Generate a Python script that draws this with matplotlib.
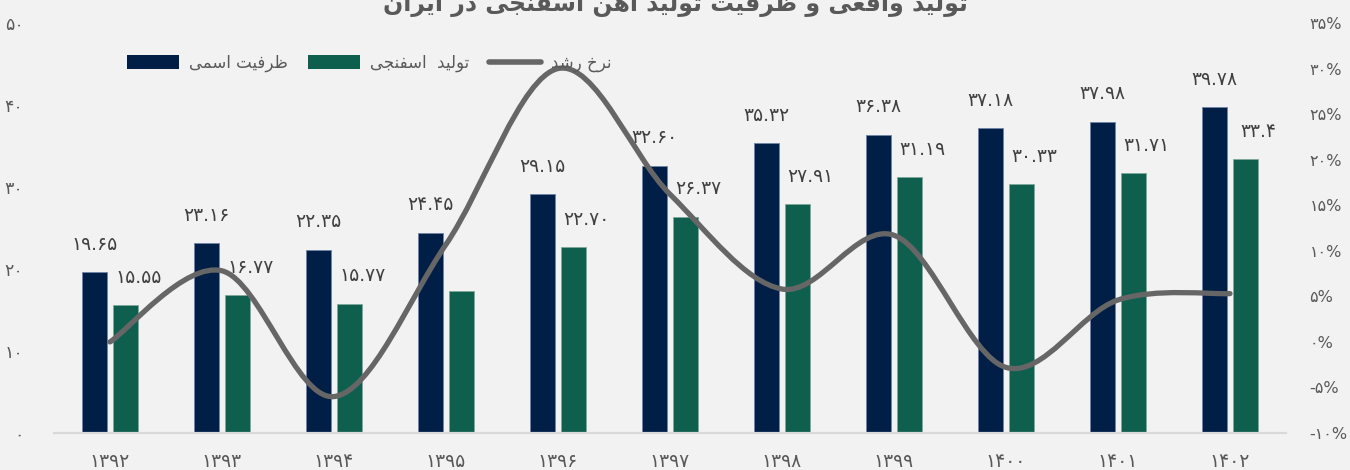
import numpy as np
import matplotlib
matplotlib.use("Agg")
import matplotlib.pyplot as plt
from matplotlib.patches import Patch
from matplotlib.lines import Line2D
from matplotlib.path import Path
from matplotlib.patches import PathPatch
from matplotlib.ticker import FixedLocator
from matplotlib import font_manager, ft2font

# ---------------- data ----------------
years = ["1392", "1393", "1394", "1395", "1396", "1397", "1398", "1399", "1400", "1401", "1402"]
capacity = [19.65, 23.16, 22.35, 24.45, 29.15, 32.60, 35.32, 36.38, 37.18, 37.98, 39.78]
production = [15.55, 16.77, 15.77, 17.30, 22.70, 26.37, 27.91, 31.19, 30.33, 31.71, 33.40]
capacity_labels = ["19.65", "23.16", "22.35", "24.45", "29.15", "32.60", "35.32", "36.38", "37.18", "37.98", "39.78"]
production_labels = ["15.55", "16.77", "15.77", None, "22.70", "26.37", "27.91", "31.19", "30.33", "31.71", "33.4"]
growth = [0.0, 7.8, -6.0, 10.7, 30.0, 16.2, 5.8, 11.7, -2.8, 4.6, 5.3]
left_ticks = [0, 10, 20, 30, 40, 50]
right_ticks = [-10, -5, 0, 5, 10, 15, 20, 25, 30, 35]

title_text = "تولید واقعی و ظرفیت تولید آهن اسفنجی در ایران"
legend_texts = ["ظرفیت اسمی", "تولید  اسفنجی", "نرخ رشد"]

# ---------------- font / shaping helpers ----------------
FONT = "DejaVu Sans"
font_path = font_manager.findfont(FONT)
_ft = ft2font.FT2Font(font_path)


def has(ch):
    return _ft.get_char_index(ord(ch)) != 0


yeh = ('\uFBFC', '\uFBFD', '\uFBFE', '\uFBFF')
if not all(has(c) for c in yeh):
    yeh = ('\uFEEF', '\uFEF0', '\uFEF3', '\uFEF4')

FORMS = {
    'ا': ('\uFE8D', '\uFE8E', None, None),
    'آ': ('\uFE81', '\uFE82', None, None),
    'ت': ('\uFE95', '\uFE96', '\uFE97', '\uFE98'),
    'ج': ('\uFE9D', '\uFE9E', '\uFE9F', '\uFEA0'),
    'خ': ('\uFEA5', '\uFEA6', '\uFEA7', '\uFEA8'),
    'د': ('\uFEA9', '\uFEAA', None, None),
    'ر': ('\uFEAD', '\uFEAE', None, None),
    'ز': ('\uFEAF', '\uFEB0', None, None),
    'س': ('\uFEB1', '\uFEB2', '\uFEB3', '\uFEB4'),
    'ش': ('\uFEB5', '\uFEB6', '\uFEB7', '\uFEB8'),
    'ظ': ('\uFEC5', '\uFEC6', '\uFEC7', '\uFEC8'),
    'ع': ('\uFEC9', '\uFECA', '\uFECB', '\uFECC'),
    'ف': ('\uFED1', '\uFED2', '\uFED3', '\uFED4'),
    'ق': ('\uFED5', '\uFED6', '\uFED7', '\uFED8'),
    'ل': ('\uFEDD', '\uFEDE', '\uFEDF', '\uFEE0'),
    'م': ('\uFEE1', '\uFEE2', '\uFEE3', '\uFEE4'),
    'ن': ('\uFEE5', '\uFEE6', '\uFEE7', '\uFEE8'),
    'ه': ('\uFEE9', '\uFEEA', '\uFEEB', '\uFEEC'),
    'و': ('\uFEED', '\uFEEE', None, None),
    'ی': yeh,
}


def shape(text):
    out = []
    n = len(text)
    for i, ch in enumerate(text):
        if ch not in FORMS:
            out.append(ch)
            continue
        f = FORMS[ch]
        prev = text[i - 1] if i > 0 else ''
        nxt = text[i + 1] if i < n - 1 else ''
        pj = prev in FORMS and FORMS[prev][2] is not None
        nj = f[2] is not None and nxt in FORMS
        if pj and nj:
            out.append(f[3])
        elif pj:
            out.append(f[1])
        elif nj:
            out.append(f[2])
        else:
            out.append(f[0])
    return ''.join(out)[::-1]


pers = [chr(0x06F0 + i) for i in range(10)]
if not all(has(c) for c in pers):
    pers = [chr(0x0660 + i) for i in range(10)]


def fa(s):
    return ''.join(pers[int(c)] if c.isdigit() else c for c in s)


# ---------------- figure ----------------
BG = "#f2f2f2"
NAVY = "#001e46"
GREEN = "#0f5f4f"
LINE = "#666666"
TXT = "#595959"
LBL = "#404040"

plt.rcParams['font.family'] = [FONT]
fig = plt.figure(figsize=(13.5, 4.7), dpi=100, facecolor=BG)
ax = fig.add_axes([54 / 1350, 1 - 433 / 470, (1286 - 54) / 1350, (433 - 23) / 470])
ax.set_facecolor("none")
ax2 = ax.twinx()
ax2.set_facecolor("none")

x = np.arange(len(years))
w = 0.225
off = 0.14
ax.bar(x - off, capacity, width=w, color=NAVY, edgecolor="#6f85a3", linewidth=0.6, zorder=2)
ax.bar(x + off, production, width=w, color=GREEN, edgecolor="#7fa89d", linewidth=0.6, zorder=2)

ax.set_xlim(-0.5, len(years) - 0.5)
ax.set_ylim(0, 50)
ax2.set_ylim(-10, 35)

# labels
for xi, v, s in zip(x, capacity, capacity_labels):
    ax.annotate(fa(s), (xi - off, v), xytext=(0, 20), textcoords="offset points",
                ha="center", va="center", fontsize=13.5, color=LBL, zorder=3)
for xi, v, s in zip(x, production, production_labels):
    if s is None:
        continue
    ax.annotate(fa(s), (xi + off, v), xytext=(9, 20), textcoords="offset points",
                ha="center", va="center", fontsize=13.5, color=LBL, zorder=3)

# smooth growth line (Bezier through the data points)
pts = np.column_stack([x.astype(float), np.array(growth, float)])
verts = [tuple(pts[0])]
codes = [Path.MOVETO]
n = len(pts)
for i in range(n - 1):
    p0 = pts[i - 1] if i > 0 else pts[i]
    p1 = pts[i]
    p2 = pts[i + 1]
    p3 = pts[i + 2] if i + 2 < n else pts[i + 1]
    c1 = p1 + (p2 - p0) / 6.0
    c2 = p2 - (p3 - p1) / 6.0
    verts += [tuple(c1), tuple(c2), tuple(p2)]
    codes += [Path.CURVE4] * 3
ax2.add_patch(PathPatch(Path(verts, codes), facecolor="none", edgecolor=LINE,
                        linewidth=3.8, capstyle="round", joinstyle="round", zorder=4))

# axes styling
for sp in ["top", "left", "right"]:
    ax.spines[sp].set_visible(False)
    ax2.spines[sp].set_visible(False)
ax2.spines["bottom"].set_visible(False)
ax.spines["bottom"].set_color("#d9d9d9")
ax.spines["bottom"].set_linewidth(1.6)

ax.set_xticks(x)
ax.set_xticklabels([fa(y) for y in years], fontsize=13.5, color=TXT)
ax.tick_params(axis="x", length=0, pad=14)
ax.yaxis.set_major_locator(FixedLocator(left_ticks))
ax.set_yticklabels([fa(str(t)) for t in left_ticks], fontsize=12.5, color=TXT)
ax.tick_params(axis="y", length=0, pad=22)
ax2.yaxis.set_major_locator(FixedLocator(right_ticks))
ax2.set_yticklabels([fa(str(t)) + "%" for t in right_ticks], fontsize=11.5, color=TXT)
ax2.tick_params(axis="y", length=0, pad=17)
for lab in ax2.get_yticklabels():
    lab.set_horizontalalignment("left")

# title (partly cropped at the top like the reference)
fig.text(0.5, 1 - 11 / 470, shape(title_text), ha="center", va="baseline",
         fontsize=17, fontweight="bold", color=TXT)

# legend
handles = [Patch(facecolor=NAVY, edgecolor="none"),
           Patch(facecolor=GREEN, edgecolor="none"),
           Line2D([0], [0], color=LINE, linewidth=4, solid_capstyle="round")]
fs = 12
px_per_em = fs * 100 / 72
fig.legend(handles, [shape(t) for t in legend_texts], ncol=3, frameon=False,
           loc="center left", bbox_to_anchor=(127 / 1350, 1 - 63 / 470),
           fontsize=fs, labelcolor=TXT, borderpad=0, borderaxespad=0,
           handlelength=52 / px_per_em, handleheight=15 / px_per_em,
           handletextpad=10 / px_per_em, columnspacing=20 / px_per_em)

fig.savefig("out.png", dpi=100, facecolor=BG)
